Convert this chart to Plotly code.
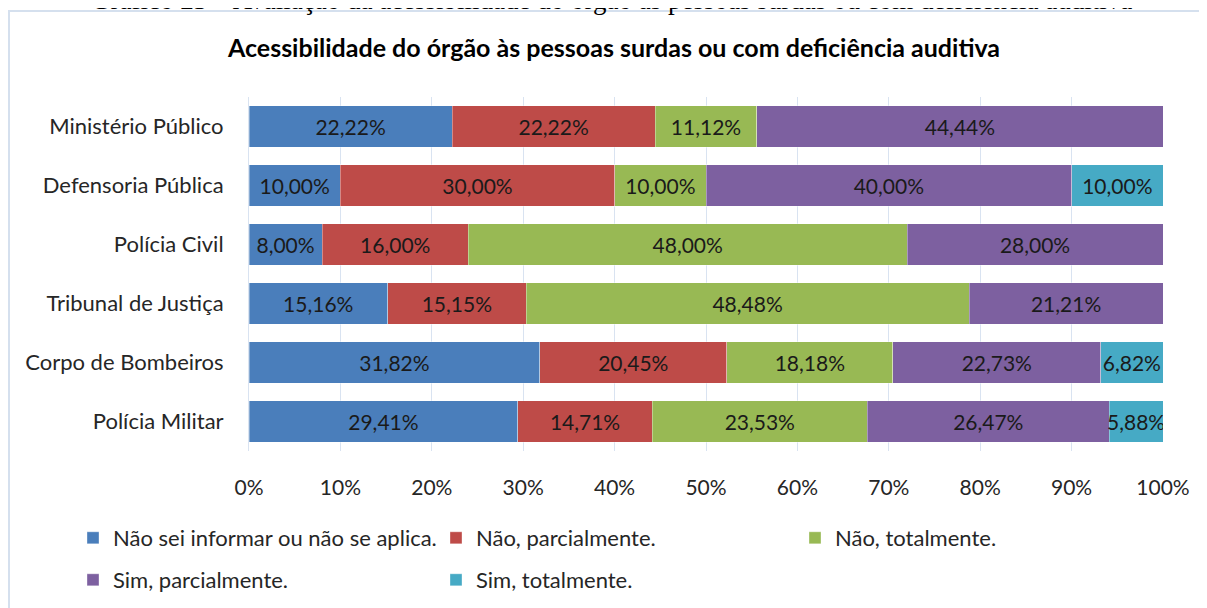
import plotly.graph_objects as go

categories = ["Ministério Público", "Defensoria Pública", "Polícia Civil",
              "Tribunal de Justiça", "Corpo de Bombeiros", "Polícia Militar"]
series_names = ["Não sei informar ou não se aplica.", "Não, parcialmente.",
                "Não, totalmente.", "Sim, parcialmente.", "Sim, totalmente."]
nao_sei = [22.22, 10.00, 8.00, 15.16, 31.82, 29.41]
nao_parcial = [22.22, 30.00, 16.00, 15.15, 20.45, 14.71]
nao_total = [11.12, 10.00, 48.00, 48.48, 18.18, 23.53]
sim_parcial = [44.44, 40.00, 28.00, 21.21, 22.73, 26.47]
sim_total = [0.00, 10.00, 0.00, 0.00, 6.82, 5.88]
x_ticks = [0, 10, 20, 30, 40, 50, 60, 70, 80, 90, 100]
x_tick_labels = ["0%", "10%", "20%", "30%", "40%", "50%", "60%", "70%", "80%", "90%", "100%"]

series_values = [nao_sei, nao_parcial, nao_total, sim_parcial, sim_total]
colors = ["#4A7EBB", "#BE4B48", "#98B954", "#7D60A0", "#46AAC5"]

FONT = "Lato"
OFF = 8  # page body margin
W, H = 1207 - OFF, 608 - OFF
ML = 249 - OFF
MR = W - (1163 - OFF)
MT = 97 - OFF
MB = H - (451.5 - OFF)
PW = W - ML - MR
PH = H - MT - MB


def px_x(p):
    # p: screenshot pixel
    return (p - OFF - ML) / PW


def px_y(p):
    return (H - MB - (p - OFF)) / PH


def cont_x(p):
    return (p - OFF) / W


def cont_y(p):
    return 1 - (p - OFF) / H


def fmt(v):
    return ("%.2f" % v).replace(".", ",") + "%" if v > 0 else ""


# legend slot (screenshot px) for each series: (left, row centre)
legend_slots = [(73, 538), (436, 538), (795, 538), (73, 580), (436, 580)]
legend_ids = ["legend", "legend2", "legend3", "legend4", "legend5"]

fig = go.Figure()
for i, (name, vals, col) in enumerate(zip(series_names, series_values, colors)):
    fig.add_trace(go.Bar(
        y=categories, x=vals, orientation="h", name=name,
        marker=dict(color=col, line=dict(color="rgba(255,255,255,0.35)", width=1)),
        text=[fmt(v) for v in vals], textposition="inside",
        insidetextanchor="middle",
        textfont=dict(family=FONT, size=21, color="#1a1a1a"),
        hoverinfo="skip",
        legend=legend_ids[i],
    ))

legend_layout = {}
for lid, (lx, ly) in zip(legend_ids, legend_slots):
    legend_layout[lid] = dict(orientation="h", xanchor="left", yanchor="middle",
                              xref="container", yref="container",
                              x=cont_x(lx), y=cont_y(ly),
                              font=dict(family=FONT, size=22, color="#262626"),
                              bgcolor="rgba(0,0,0,0)")

fig.update_layout(
    width=W, height=H,
    margin=dict(l=ML, r=MR, t=MT, b=MB, autoexpand=False),
    barmode="stack", bargap=0.3,
    paper_bgcolor="white", plot_bgcolor="white",
    font=dict(family=FONT, color="#262626"),
    uniformtext=dict(minsize=21, mode="show"),
    title=dict(text="<b>Acessibilidade do órgão às pessoas surdas ou com deficiência auditiva</b>",
               x=(614 - OFF) / W, xanchor="center", y=1 - (48 - OFF) / H, yanchor="middle",
               font=dict(family=FONT, size=25, color="#000000")),
    xaxis=dict(range=[0, 100], tickvals=x_ticks, ticktext=x_tick_labels,
               showgrid=True, gridcolor="#D9E3F1", gridwidth=1, zeroline=False,
               ticks="", ticklabelstandoff=22,
               tickfont=dict(family=FONT, size=21, color="#262626")),
    yaxis=dict(autorange="reversed", showline=True, linecolor="#D9E3F1", linewidth=1,
               ticks="", ticklabelstandoff=20,
               tickfont=dict(family=FONT, size=22, color="#262626")),
    showlegend=True,
    **legend_layout,
)

# chart border (extends beyond the page on right and bottom)
fig.add_shape(type="rect", xref="paper", yref="paper",
              x0=px_x(9), x1=px_x(1260), y0=px_y(11), y1=px_y(660),
              line=dict(color="#D5E0EE", width=2), fillcolor="rgba(0,0,0,0)", layer="below")

# clipped caption at the very top
fig.add_annotation(text="Gráfico 23 – Avaliação da acessibilidade do órgão às pessoas surdas ou com deficiência auditiva",
                   xref="paper", yref="paper", x=px_x(611), y=px_y(17), xanchor="center", yanchor="bottom",
                   showarrow=False, font=dict(family="Liberation Serif", size=27, color="#000000"))

fig.write_html("out.html")
